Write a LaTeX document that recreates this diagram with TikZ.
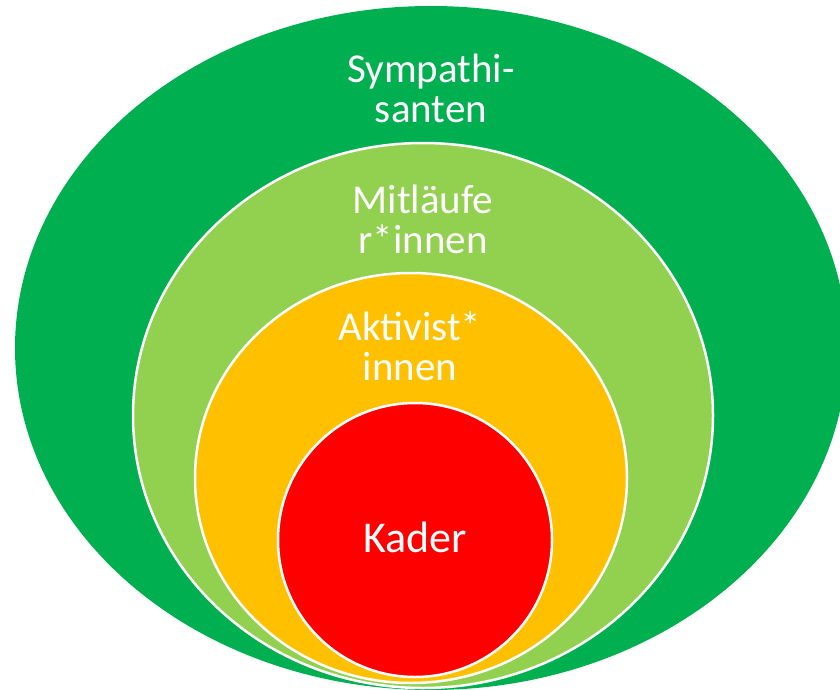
\documentclass[tikz,border=0pt]{standalone}
\usepackage{fontspec}
\setmainfont{Carlito}
\definecolor{darkgreen}{HTML}{00B050}
\definecolor{lightgreen}{HTML}{92D050}
\definecolor{orangey}{HTML}{FFC000}
\definecolor{reddish}{HTML}{FF0000}
\tikzset{
  ring/.style={draw=white, line width=2.5pt},
  lbl/.style={text=white, align=center, anchor=base, inner sep=0pt,
    font=\fontsize{41}{40}\selectfont}
}
\begin{document}
\begin{tikzpicture}[x=1pt,y=-1pt]
\useasboundingbox (0,0) rectangle (840,690);
\clip (0,0) rectangle (840,690);
\fill[darkgreen] (431,348) ellipse [x radius=416, y radius=342];
\fill[lightgreen, ring] (423,415.5) ellipse [x radius=290, y radius=272.5];
\fill[orangey, ring] (411,478) ellipse [x radius=216, y radius=205];
\fill[reddish, ring] (415,540) circle [radius=137];
\node[lbl] (sym) at (431,123) {Sympathi-\\santen};
\node[lbl] (mit) at (423,253) {Mitläufe\\r*innen};
\node[lbl] (akt) at (410,380) {Aktivist*\\innen};
\node[lbl, font=\fontsize{44}{44}\selectfont] (kad) at (415,552) {Kader};
\end{tikzpicture}
\end{document}
